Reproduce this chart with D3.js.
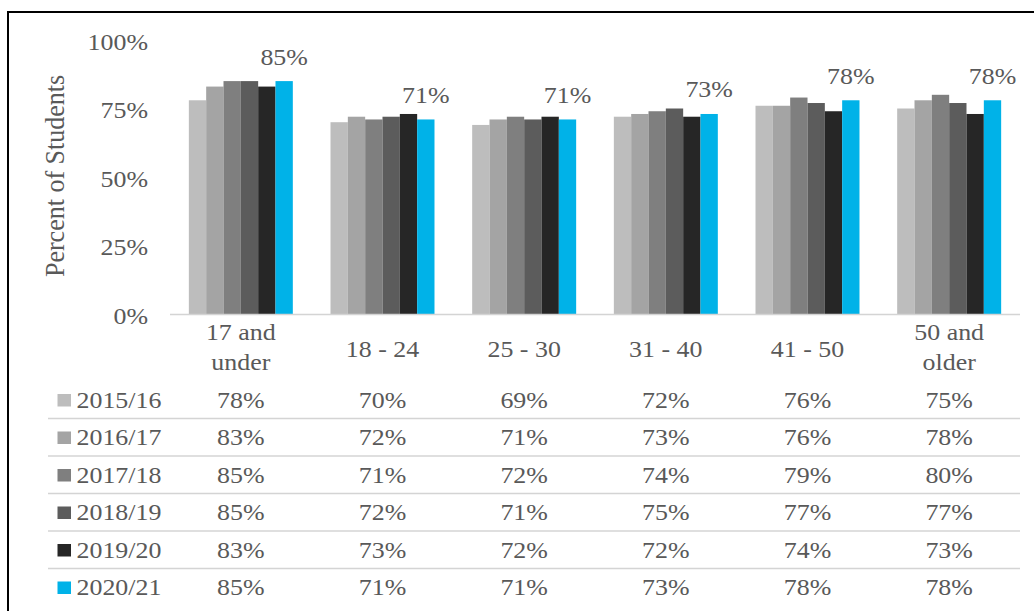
<!DOCTYPE html>
<html>
<head>
<meta charset="utf-8">
<script src="https://cdn.jsdelivr.net/npm/d3@7"></script>
<style>
  html, body { margin: 0; padding: 0; background: #fff; }
  svg { display: block; }
  text { font-family: "Liberation Serif", "Times New Roman", serif; fill: #595959; }
</style>
</head>
<body>
<svg id="chart" width="1034" height="611"></svg>
<script>
// ---- data ----
const categories = ["17 and under", "18 - 24", "25 - 30", "31 - 40", "41 - 50", "50 and older"];
const categoryLines = [["17 and", "under"], ["18 - 24"], ["25 - 30"], ["31 - 40"], ["41 - 50"], ["50 and", "older"]];
const seriesNames = ["2015/16", "2016/17", "2017/18", "2018/19", "2019/20", "2020/21"];
const values2015 = [78, 70, 69, 72, 76, 75];
const values2016 = [83, 72, 71, 73, 76, 78];
const values2017 = [85, 71, 72, 74, 79, 80];
const values2018 = [85, 72, 71, 75, 77, 77];
const values2019 = [83, 73, 72, 72, 74, 73];
const values2020 = [85, 71, 71, 73, 78, 78];
const seriesValues = [values2015, values2016, values2017, values2018, values2019, values2020];
const seriesColors = ["#bdbdbd", "#a4a4a4", "#7f7f7f", "#5c5c5c", "#262626", "#00b2e8"];
const yTicks = [0, 25, 50, 75, 100];
const yTitle = "Percent of Students";

// ---- layout ----
const SX = 1.08; // horizontal stretch of the original picture
const svg = d3.select("#chart");

// outer frame
svg.append("rect")
  .attr("x", 8).attr("y", 12).attr("width", 1032).attr("height", 610)
  .attr("fill", "none").attr("stroke", "#000").attr("stroke-width", 2);

const g = svg.append("g").attr("transform", `scale(${SX},1)`);
const px = v => v / SX;

const plotLeft = 170, plotRight = 1020, baseY = 314, topY = 40;

const x = d3.scaleBand().domain(categories)
  .range([px(plotLeft), px(plotRight)])
  .paddingInner(0.266).paddingOuter(0.133);
const xs = d3.scaleBand().domain(seriesNames).range([0, x.bandwidth()]).padding(0);
const y = d3.scaleLinear().domain([0, 100]).range([baseY, topY]);

// y tick labels
const yAxis = d3.axisLeft(y).tickValues(yTicks).tickFormat(d => d + "%").tickSize(0).tickPadding(0);
const ya = g.append("g").attr("transform", `translate(${px(148)},0)`).call(yAxis);
ya.select(".domain").remove();
ya.selectAll("text")
  .attr("dy", null).attr("y", 9)
  .style("font-family", '"Liberation Serif", serif').style("font-size", "24px")
  .attr("fill", "#595959");

// y title
g.append("text")
  .attr("transform", `translate(${px(64)},176) rotate(-90)`)
  .attr("text-anchor", "middle")
  .style("font-size", "26px")
  .text(yTitle);

// bars
const groups = g.append("g").selectAll("g")
  .data(categories).join("g")
  .attr("transform", d => `translate(${x(d)},0)`);
groups.selectAll("rect")
  .data((c, ci) => seriesNames.map((s, si) => ({ s, v: seriesValues[si][ci], color: seriesColors[si] })))
  .join("rect")
  .attr("x", d => xs(d.s))
  .attr("width", xs.bandwidth())
  .attr("y", d => y(d.v))
  .attr("height", d => baseY - y(d.v))
  .attr("fill", d => d.color);

// baseline
g.append("line")
  .attr("x1", px(plotLeft)).attr("x2", px(plotRight))
  .attr("y1", baseY + 0.5).attr("y2", baseY + 0.5)
  .attr("stroke", "#d4d4d4").attr("stroke-width", 1.5);

// data labels on last series
const lastName = seriesNames[seriesNames.length - 1];
g.append("g").selectAll("text")
  .data(categories).join("text")
  .attr("x", (c) => x(c) + xs(lastName) + xs.bandwidth() / 2)
  .attr("y", (c, i) => y(values2020[i]) - 16.5)
  .attr("text-anchor", "middle")
  .style("font-size", "24px")
  .text((c, i) => values2020[i] + "%");

// category labels
const catG = g.append("g").selectAll("text")
  .data(categories).join("text")
  .attr("text-anchor", "middle")
  .style("font-size", "24px")
  .attr("x", c => x(c) + x.bandwidth() / 2)
  .attr("y", (c, i) => categoryLines[i].length > 1 ? 340 : 357.3);
catG.each(function (c, i) {
  const t = d3.select(this);
  categoryLines[i].forEach((line, li) => {
    t.append("tspan")
      .attr("x", x(c) + x.bandwidth() / 2)
      .attr("dy", li === 0 ? 0 : 30.5)
      .text(line);
  });
});

// data table
const rowBase = 407.5, rowStep = 37.5;
const rows = g.append("g").selectAll("g")
  .data(seriesNames).join("g")
  .attr("transform", (s, i) => `translate(0,${rowBase + i * rowStep})`);
rows.append("rect")
  .attr("x", px(57.5)).attr("y", -13.5)
  .attr("width", px(13.5)).attr("height", 12.5)
  .attr("fill", (s, i) => seriesColors[i]);
rows.append("text")
  .attr("x", px(76.5)).attr("y", 0)
  .style("font-size", "24px")
  .text(s => s);
rows.selectAll("text.val")
  .data((s, si) => categories.map((c, ci) => ({ c, v: seriesValues[si][ci] })))
  .join("text").attr("class", "val")
  .attr("x", d => x(d.c) + x.bandwidth() / 2)
  .attr("y", 0)
  .attr("text-anchor", "middle")
  .style("font-size", "24px")
  .text(d => d.v + "%");
rows.filter((s, i) => i < seriesNames.length - 1)
  .append("line")
  .attr("x1", px(48)).attr("x2", px(1020))
  .attr("y1", 11).attr("y2", 11)
  .attr("stroke", "#d4d4d4").attr("stroke-width", 1.5);
</script>
</body>
</html>
